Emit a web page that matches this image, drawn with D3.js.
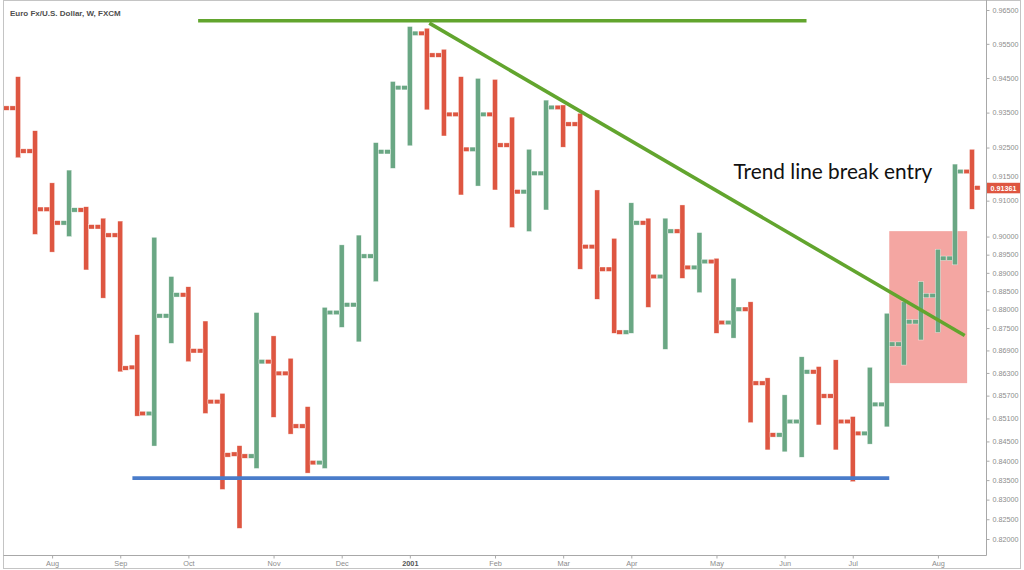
<!DOCTYPE html>
<html>
<head>
<meta charset="utf-8">
<script src="https://cdn.jsdelivr.net/npm/d3@7"></script>
<style>
html,body{margin:0;padding:0;background:#fff;}
svg{display:block;}
</style>
</head>
<body>
<svg id="chart" width="1024" height="570"></svg>
<script>
// ---------------- DATA ----------------
const title = "Euro Fx/U.S. Dollar, W, FXCM";
const weeks = [
  "2000-07-17","2000-07-24","2000-07-31","2000-08-07","2000-08-14","2000-08-21","2000-08-28",
  "2000-09-04","2000-09-11","2000-09-18","2000-09-25","2000-10-02","2000-10-09","2000-10-16",
  "2000-10-23","2000-10-30","2000-11-06","2000-11-13","2000-11-20","2000-11-27","2000-12-04",
  "2000-12-11","2000-12-18","2000-12-25","2001-01-01","2001-01-08","2001-01-15","2001-01-22",
  "2001-01-29","2001-02-05","2001-02-12","2001-02-19","2001-02-26","2001-03-05","2001-03-12",
  "2001-03-19","2001-03-26","2001-04-02","2001-04-09","2001-04-16","2001-04-23","2001-04-30",
  "2001-05-07","2001-05-14","2001-05-21","2001-05-28","2001-06-04","2001-06-11","2001-06-18",
  "2001-06-25","2001-07-02","2001-07-09","2001-07-16","2001-07-23","2001-07-30","2001-08-06",
  "2001-08-13","2001-08-20"
];
const openP = [
  0.9386,0.9363,0.9240,0.9076,0.9038,0.9074,0.9027,0.9004,0.8645,0.8523,
  0.8783,0.8840,0.8689,0.8554,0.8417,0.8412,0.8660,0.8629,0.8490,0.8395,
  0.8792,0.8813,0.8946,0.9238,0.9422,0.9581,0.9517,0.9345,0.9245,0.9345,
  0.9257,0.9125,0.9177,0.9365,0.9317,0.8972,0.8910,0.8739,0.9038,0.8890,
  0.9015,0.8915,0.8931,0.8765,0.8801,0.8603,0.8467,0.8502,0.8633,0.8569,
  0.8502,0.8471,0.8547,0.8707,0.8767,0.8838,0.8940,0.9182
];
const highP = [
  0.9401,0.9454,0.9298,0.9150,0.9186,0.9083,0.9051,0.9043,0.8732,0.8998,
  0.8890,0.8862,0.8769,0.8576,0.8439,0.8792,0.8729,0.8669,0.8541,0.8806,
  0.8977,0.9004,0.9264,0.9440,0.9601,0.9596,0.9534,0.9454,0.9449,0.9446,
  0.9337,0.9245,0.9386,0.9372,0.9348,0.9130,0.8995,0.9094,0.9051,0.9051,
  0.9088,0.9011,0.8940,0.8885,0.8821,0.8617,0.8572,0.8673,0.8647,0.8665,
  0.8515,0.8645,0.8790,0.8821,0.8876,0.8965,0.9203,0.9245
];
const lowP = [
  0.9352,0.9221,0.9006,0.8957,0.9000,0.8908,0.8831,0.8633,0.8516,0.8438,
  0.8709,0.8660,0.8523,0.8326,0.8227,0.8380,0.8513,0.8469,0.8368,0.8380,
  0.8752,0.8713,0.8876,0.9191,0.9255,0.9358,0.9283,0.9116,0.9141,0.9130,
  0.9025,0.9014,0.9074,0.9251,0.8910,0.8828,0.8736,0.8736,0.8806,0.8693,
  0.8885,0.8846,0.8736,0.8723,0.8499,0.8428,0.8423,0.8409,0.8493,0.8428,
  0.8346,0.8443,0.8488,0.8651,0.8718,0.8738,0.8922,0.9076
];
const closeP = [
  0.9363,0.9240,0.9076,0.9038,0.9074,0.9027,0.9004,0.8643,0.8523,0.8783,
  0.8840,0.8689,0.8554,0.8415,0.8412,0.8660,0.8629,0.8490,0.8395,0.8792,
  0.8813,0.8946,0.9238,0.9422,0.9581,0.9517,0.9345,0.9245,0.9345,0.9257,
  0.9125,0.9177,0.9365,0.9317,0.8972,0.8910,0.8739,0.9038,0.8890,0.9015,
  0.8915,0.8931,0.8765,0.8801,0.8603,0.8467,0.8502,0.8633,0.8569,0.8502,
  0.8471,0.8547,0.8707,0.8767,0.8838,0.8940,0.9182,0.91361
];
const lastPrice = 0.91361;
const yTicks = [0.965,0.955,0.945,0.935,0.925,0.915,0.910,0.900,0.895,0.890,0.885,0.880,
                0.875,0.869,0.863,0.857,0.851,0.845,0.840,0.835,0.830,0.825,0.820];
const xTickWeeks  = ["2000-08-07","2000-09-04","2000-10-02","2000-11-06","2000-12-04","2001-01-01",
                     "2001-02-05","2001-03-05","2001-04-02","2001-05-07","2001-06-04","2001-07-02","2001-08-06"];
const xTickLabels = ["Aug","Sep","Oct","Nov","Dec","2001","Feb","Mar","Apr","May","Jun","Jul","Aug"];
// annotations (date, price)
const resistanceLine = [["2000-10-06",0.9618],["2001-06-13",0.9618]];
const trendLine      = [["2001-01-09",0.9611],["2001-08-17",0.8730]];
const supportLine    = [["2000-09-09",0.8355],["2001-07-17",0.8355]];
const entryZone      = [["2001-07-17",0.9015],["2001-08-18",0.8603]];
const noteText  = "Trend line break entry";
const notePos   = ["2001-05-14",0.9161];

// ---------------- LAYOUT ----------------
const RED = "#de5641", GREEN = "#6aa784";
const svg = d3.select("#chart");
const parse = d3.utcParse("%Y-%m-%d");
const plotL = 4, plotR = 986.5, plotT = 0.5, plotB = 555.5;

const x = d3.scaleUtc()
  .domain([parse(weeks[0]), parse(weeks[weeks.length-1])])
  .range([1, 972]);
const y = d3.scaleLog().domain([0.82, 0.965]).range([539, 10]);

svg.append("defs").append("clipPath").attr("id","plotclip")
  .append("rect").attr("x",plotL).attr("y",plotT).attr("width",plotR-plotL).attr("height",plotB-plotT);

// outer frame
svg.append("rect").attr("x",3.5).attr("y",0.5).attr("width",1017).attr("height",568)
  .attr("fill","none").attr("stroke","#c4c4c4").attr("stroke-width",1);

const plot = svg.append("g").attr("clip-path","url(#plotclip)");

// entry zone (under bars)
plot.append("rect")
  .attr("x", x(parse(entryZone[0][0])))
  .attr("y", y(entryZone[0][1]))
  .attr("width", x(parse(entryZone[1][0])) - x(parse(entryZone[0][0])))
  .attr("height", y(entryZone[1][1]) - y(entryZone[0][1]))
  .attr("fill", "#f4a6a2");

// OHLC bars
const bw = 5, tl = 5.6, th = 4.4;
const bars = plot.append("g");
weeks.forEach((w, i) => {
  const cx = x(parse(w));
  const col = closeP[i] >= openP[i] ? GREEN : RED;
  const gg = bars.append("g").attr("fill", col).attr("stroke","#fff").attr("stroke-width",0.5).attr("stroke-opacity",0.75);
  gg.append("rect").attr("x", cx - bw/2).attr("y", y(highP[i]))
    .attr("width", bw).attr("height", Math.max(1, y(lowP[i]) - y(highP[i])));
  gg.append("rect").attr("x", cx - bw/2 - tl).attr("y", y(openP[i]) - th/2)
    .attr("width", tl).attr("height", th);
  gg.append("rect").attr("x", cx + bw/2).attr("y", y(closeP[i]) - th/2)
    .attr("width", tl).attr("height", th);
});

// annotation lines
function drawLine(pts, color) {
  plot.append("line")
    .attr("x1", x(parse(pts[0][0]))).attr("y1", y(pts[0][1]))
    .attr("x2", x(parse(pts[1][0]))).attr("y2", y(pts[1][1]))
    .attr("stroke", color).attr("stroke-width", 3.6);
}
drawLine(supportLine, "#4a7cca");
drawLine(resistanceLine, "#62a52e");
drawLine(trendLine, "#62a52e");

// note text
const note = svg.append("text")
  .attr("x", x(parse(notePos[0]))).attr("y", y(notePos[1]))
  .attr("font-family", "Lato, 'Open Sans', sans-serif")
  .attr("font-size", 20).attr("fill", "#111").text(noteText);
const nl = note.node().getComputedTextLength();
note.attr("font-size", 20 * 199 / nl);

// plot borders
svg.append("line").attr("x1",plotR).attr("x2",plotR).attr("y1",0).attr("y2",plotB)
  .attr("stroke","#a8a8a8");
svg.append("line").attr("x1",3.5).attr("x2",plotR).attr("y1",plotB).attr("y2",plotB)
  .attr("stroke","#a8a8a8");

// last price label geometry
const ly = y(lastPrice);
const boxTop = ly - 5, boxH = 10.5;

// Y axis (right)
const yAxis = svg.append("g").attr("transform", `translate(${plotR},0)`)
  .call(d3.axisRight(y).tickValues(yTicks).tickFormat(d3.format(".5f")).tickSize(3).tickPadding(3));
yAxis.select(".domain").remove();
yAxis.selectAll("line").attr("stroke","#aaa");
yAxis.selectAll("text").attr("font-family","'Liberation Sans', Arial, sans-serif")
  .attr("font-size",7.2).attr("fill","#8c8c8c");
// label partially behind the price box in the reference: nudge it just above the box
yAxis.selectAll(".tick").filter(d => Math.abs(y(d) - ly) < 8).select("text")
  .attr("dy", function(d){ return (boxTop - 4.2 - y(d)) + "px"; });

// X axis
const xAxis = svg.append("g").attr("transform", `translate(0,${plotB})`)
  .call(d3.axisBottom(x).tickValues(xTickWeeks.map(parse))
    .tickFormat((d, i) => xTickLabels[i]).tickSize(3).tickPadding(2));
xAxis.select(".domain").remove();
xAxis.selectAll("line").attr("stroke","#aaa");
xAxis.selectAll("text").attr("font-family","'Liberation Sans', Arial, sans-serif")
  .attr("font-size",7.3)
  .attr("font-weight", (d, i) => xTickLabels[i] === "2001" ? "bold" : "normal")
  .attr("fill", (d, i) => xTickLabels[i] === "2001" ? "#555" : "#8c8c8c");

// last price label
svg.append("rect").attr("x", plotR + 0.5).attr("y", boxTop).attr("width", 33).attr("height", boxH)
  .attr("fill", RED);
svg.append("text").attr("x", plotR + 4).attr("y", boxTop + boxH/2).attr("dy","0.35em")
  .attr("font-family","'Liberation Sans', Arial, sans-serif").attr("font-size",7.2)
  .attr("font-weight","bold").attr("fill","#fff").text(d3.format(".5f")(lastPrice));

// title
svg.append("text").attr("x",10).attr("y",15.5)
  .attr("font-family","'Liberation Sans', Arial, sans-serif").attr("font-size",8)
  .attr("font-weight","bold").attr("fill","#4f4f4f").text(title);
</script>
</body>
</html>
